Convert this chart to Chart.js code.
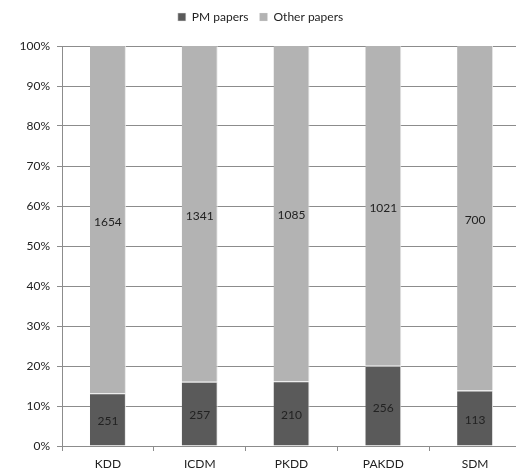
<!DOCTYPE html>
<html>
<head>
<meta charset="utf-8">
<script src="https://cdn.jsdelivr.net/npm/chart.js@4/dist/chart.umd.min.js"></script>
<style>
  html, body { margin: 0; padding: 0; background: #fff; overflow: hidden; }
  #wrap { width: 521px; height: 471px; }
</style>
</head>
<body>
<div id="wrap"><canvas id="chart"></canvas></div>
<script>
const venues = ['KDD', 'ICDM', 'PKDD', 'PAKDD', 'SDM'];
const pmPapers = [251, 257, 210, 256, 113];
const otherPapers = [1654, 1341, 1085, 1021, 700];
const yTicks = [0, 10, 20, 30, 40, 50, 60, 70, 80, 90, 100];

// percentage of each venue's total, for the 100% stacked bars
const totals = venues.map((v, i) => pmPapers[i] + otherPapers[i]);
const pmShare = pmPapers.map((n, i) => n / totals[i] * 100);
const otherShare = otherPapers.map((n, i) => n / totals[i] * 100);

const font = { family: 'Lato, "Liberation Sans", sans-serif', size: 12 };

// counts written in the middle of each segment
const countLabels = {
  id: 'countLabels',
  afterDatasetsDraw(chart) {
    let ctx = chart.ctx;
    ctx.save();
    ctx.font = '12px ' + font.family;
    ctx.fillStyle = '#222';
    ctx.textAlign = 'center';
    ctx.textBaseline = 'middle';
    chart.data.datasets.forEach((ds, d) => {
      chart.getDatasetMeta(d).data.forEach((bar, i) => {
        let mid = (bar.y + bar.base) / 2;
        ctx.fillText(ds.counts[i], bar.x, mid + 2);
      });
    });
    ctx.restore();
  }
};

// fixed legend height so the plot starts where the picture does
const legendHeight = {
  id: 'legendHeight',
  beforeInit(chart) {
    let fit = chart.legend.fit;
    chart.legend.fit = function () {
      fit.bind(chart.legend)();
      this.height = 46;
    };
  }
};

new Chart(document.getElementById('chart'), {
  type: 'bar',
  data: {
    labels: venues,
    datasets: [
      {
        label: 'PM papers',
        data: pmShare,
        counts: pmPapers,
        backgroundColor: '#5a5a5a',
        borderColor: '#e6e6e6',
        borderWidth: { top: 1, right: 1 },
        borderSkipped: false,
        barPercentage: 0.8,
        categoryPercentage: 0.49
      },
      {
        label: 'Other papers',
        data: otherShare,
        counts: otherPapers,
        backgroundColor: '#b3b3b3',
        borderColor: '#e6e6e6',
        borderWidth: { right: 1 },
        borderSkipped: false,
        barPercentage: 0.8,
        categoryPercentage: 0.49
      }
    ]
  },
  options: {
    responsive: true,
    maintainAspectRatio: false,
    animation: false,
    layout: { padding: { top: 0, right: 0, bottom: 0, left: 0 } },
    plugins: {
      legend: {
        position: 'top',
        labels: {
          font: font,
          color: '#222',
          boxWidth: 8,
          boxHeight: 8,
          padding: 11,
          useBorderRadius: false
        }
      },
      tooltip: { enabled: false }
    },
    scales: {
      x: {
        stacked: true,
        grid: {
          offset: true,
          drawOnChartArea: false,
          drawTicks: true,
          tickLength: 5,
          color: '#8c8c8c'
        },
        border: { display: true, color: '#8c8c8c' },
        ticks: { font: font, color: '#222', padding: 6 },
        afterFit(scale) { scale.height = 25; }
      },
      y: {
        stacked: true,
        min: 0,
        max: 100,
        grid: { color: '#8c8c8c', tickLength: 5 },
        border: { display: true, color: '#8c8c8c' },
        afterBuildTicks(scale) { scale.ticks = yTicks.map(v => ({ value: v })); },
        ticks: {
          font: font,
          color: '#222',
          padding: 7,
          callback: v => v + '%'
        },
        afterFit(scale) { scale.width = 62; }
      }
    }
  },
  plugins: [countLabels, legendHeight]
});
</script>
</body>
</html>
